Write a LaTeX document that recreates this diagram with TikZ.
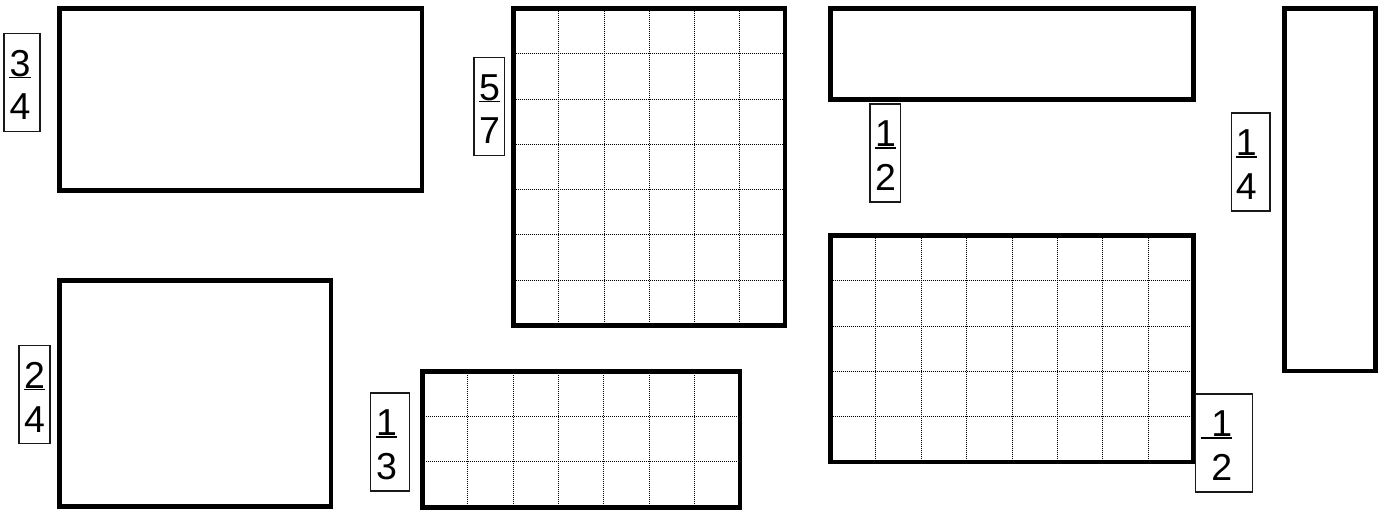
\documentclass[tikz,border=0pt]{standalone}
\usepackage{fontspec}
\setmainfont{Liberation Sans}
\begin{document}
\begin{tikzpicture}[x=1pt,y=-1pt,
  frame/.style={line width=4.6pt, draw=black},
  gridline/.style={line width=1pt, draw=black, dash pattern=on 1pt off 1pt},
  labbox/.style={draw=black!90, line width=1.4pt, inner sep=0pt, minimum height=98pt, anchor=north west},
  digit/.style={inner sep=0pt, font=\fontsize{37.5}{45}\selectfont},
  barline/.style={line width=1.2pt, draw=black}]
\useasboundingbox (0,0) rectangle (1386,509);
\fill[white] (0,0) rectangle (1386,509);

\newcommand\fraclab[7]{%
  \node[labbox, minimum width=#4pt] (#1) at (#2,#3) {};
  \node[digit, anchor=base west] (#1n) at (#5,#3+43.5) {#6};
  \node[digit, anchor=base west] (#1d) at (#5,#3+87) {#7};
  \draw[barline] ([yshift=-1.2pt]#1n.base west) -- ([yshift=-1.2pt]#1n.base east);
}

% top-left plain rectangle 8x4
\draw[frame] (59.5,8.5) rectangle (422,190.5);

% top-middle grid 6x7
\foreach \i in {1,...,5} \draw[gridline] ({513.5+\i*45.25},8.5) -- ({513.5+\i*45.25},325.5);
\foreach \j in {1,...,6} \draw[gridline] (513.5,{8.5+\j*45.29}) -- (785,{8.5+\j*45.29});
\draw[frame] (513.5,8.5) rectangle (785,325.5);

% top-right wide rectangle 8x2
\draw[frame] (830.7,8.4) rectangle (1193.3,99.3);

% tall rectangle 2x8
\draw[frame] (1284.4,8.5) rectangle (1375.3,371);

% bottom-left plain rectangle 6x5
\draw[frame] (59.7,280.7) rectangle (331,506.3);

% bottom-middle grid 7x3
\foreach \i in {1,...,6} \draw[gridline] ({422.3+\i*45.39},371.3) -- ({422.3+\i*45.39},507.3);
\foreach \j in {1,2} \draw[gridline] (422.3,{371.3+\j*45.33}) -- (740,{371.3+\j*45.33});
\draw[frame] (422.3,371.3) rectangle (740,507.3);

% bottom-right grid 8x5
\foreach \i in {1,...,7} \draw[gridline] ({830.6+\i*45.35},235.6) -- ({830.6+\i*45.35},462);
\foreach \j in {1,...,4} \draw[gridline] (830.6,{235.6+\j*45.28}) -- (1193.4,{235.6+\j*45.28});
\draw[frame] (830.6,235.6) rectangle (1193.4,462);

% fraction labels
\fraclab{la}{3.3}{32.7}{36}{9.3}{3}{4}
\fraclab{lb}{473.3}{56.7}{30.7}{479}{5}{7}
\fraclab{lc}{18.3}{345}{31}{24}{2}{4}
\fraclab{ld}{370}{392.3}{38.7}{376}{1}{3}
\fraclab{le}{869.3}{103.3}{30.7}{875}{1}{2}
\fraclab{lf}{1231}{112.3}{38.3}{1235.7}{1}{4}
\node[labbox, minimum width=56.7pt] (lg) at (1195,393.3) {};
\node[digit, anchor=base west] (lgn) at (1200.7,436.8) {\ 1};
\node[digit, anchor=base west] (lgd) at (1211.1,480.3) {2};
\draw[barline] ([yshift=-1.2pt]lgn.base west) -- ([yshift=-1.2pt]lgn.base east);
\end{tikzpicture}
\end{document}
